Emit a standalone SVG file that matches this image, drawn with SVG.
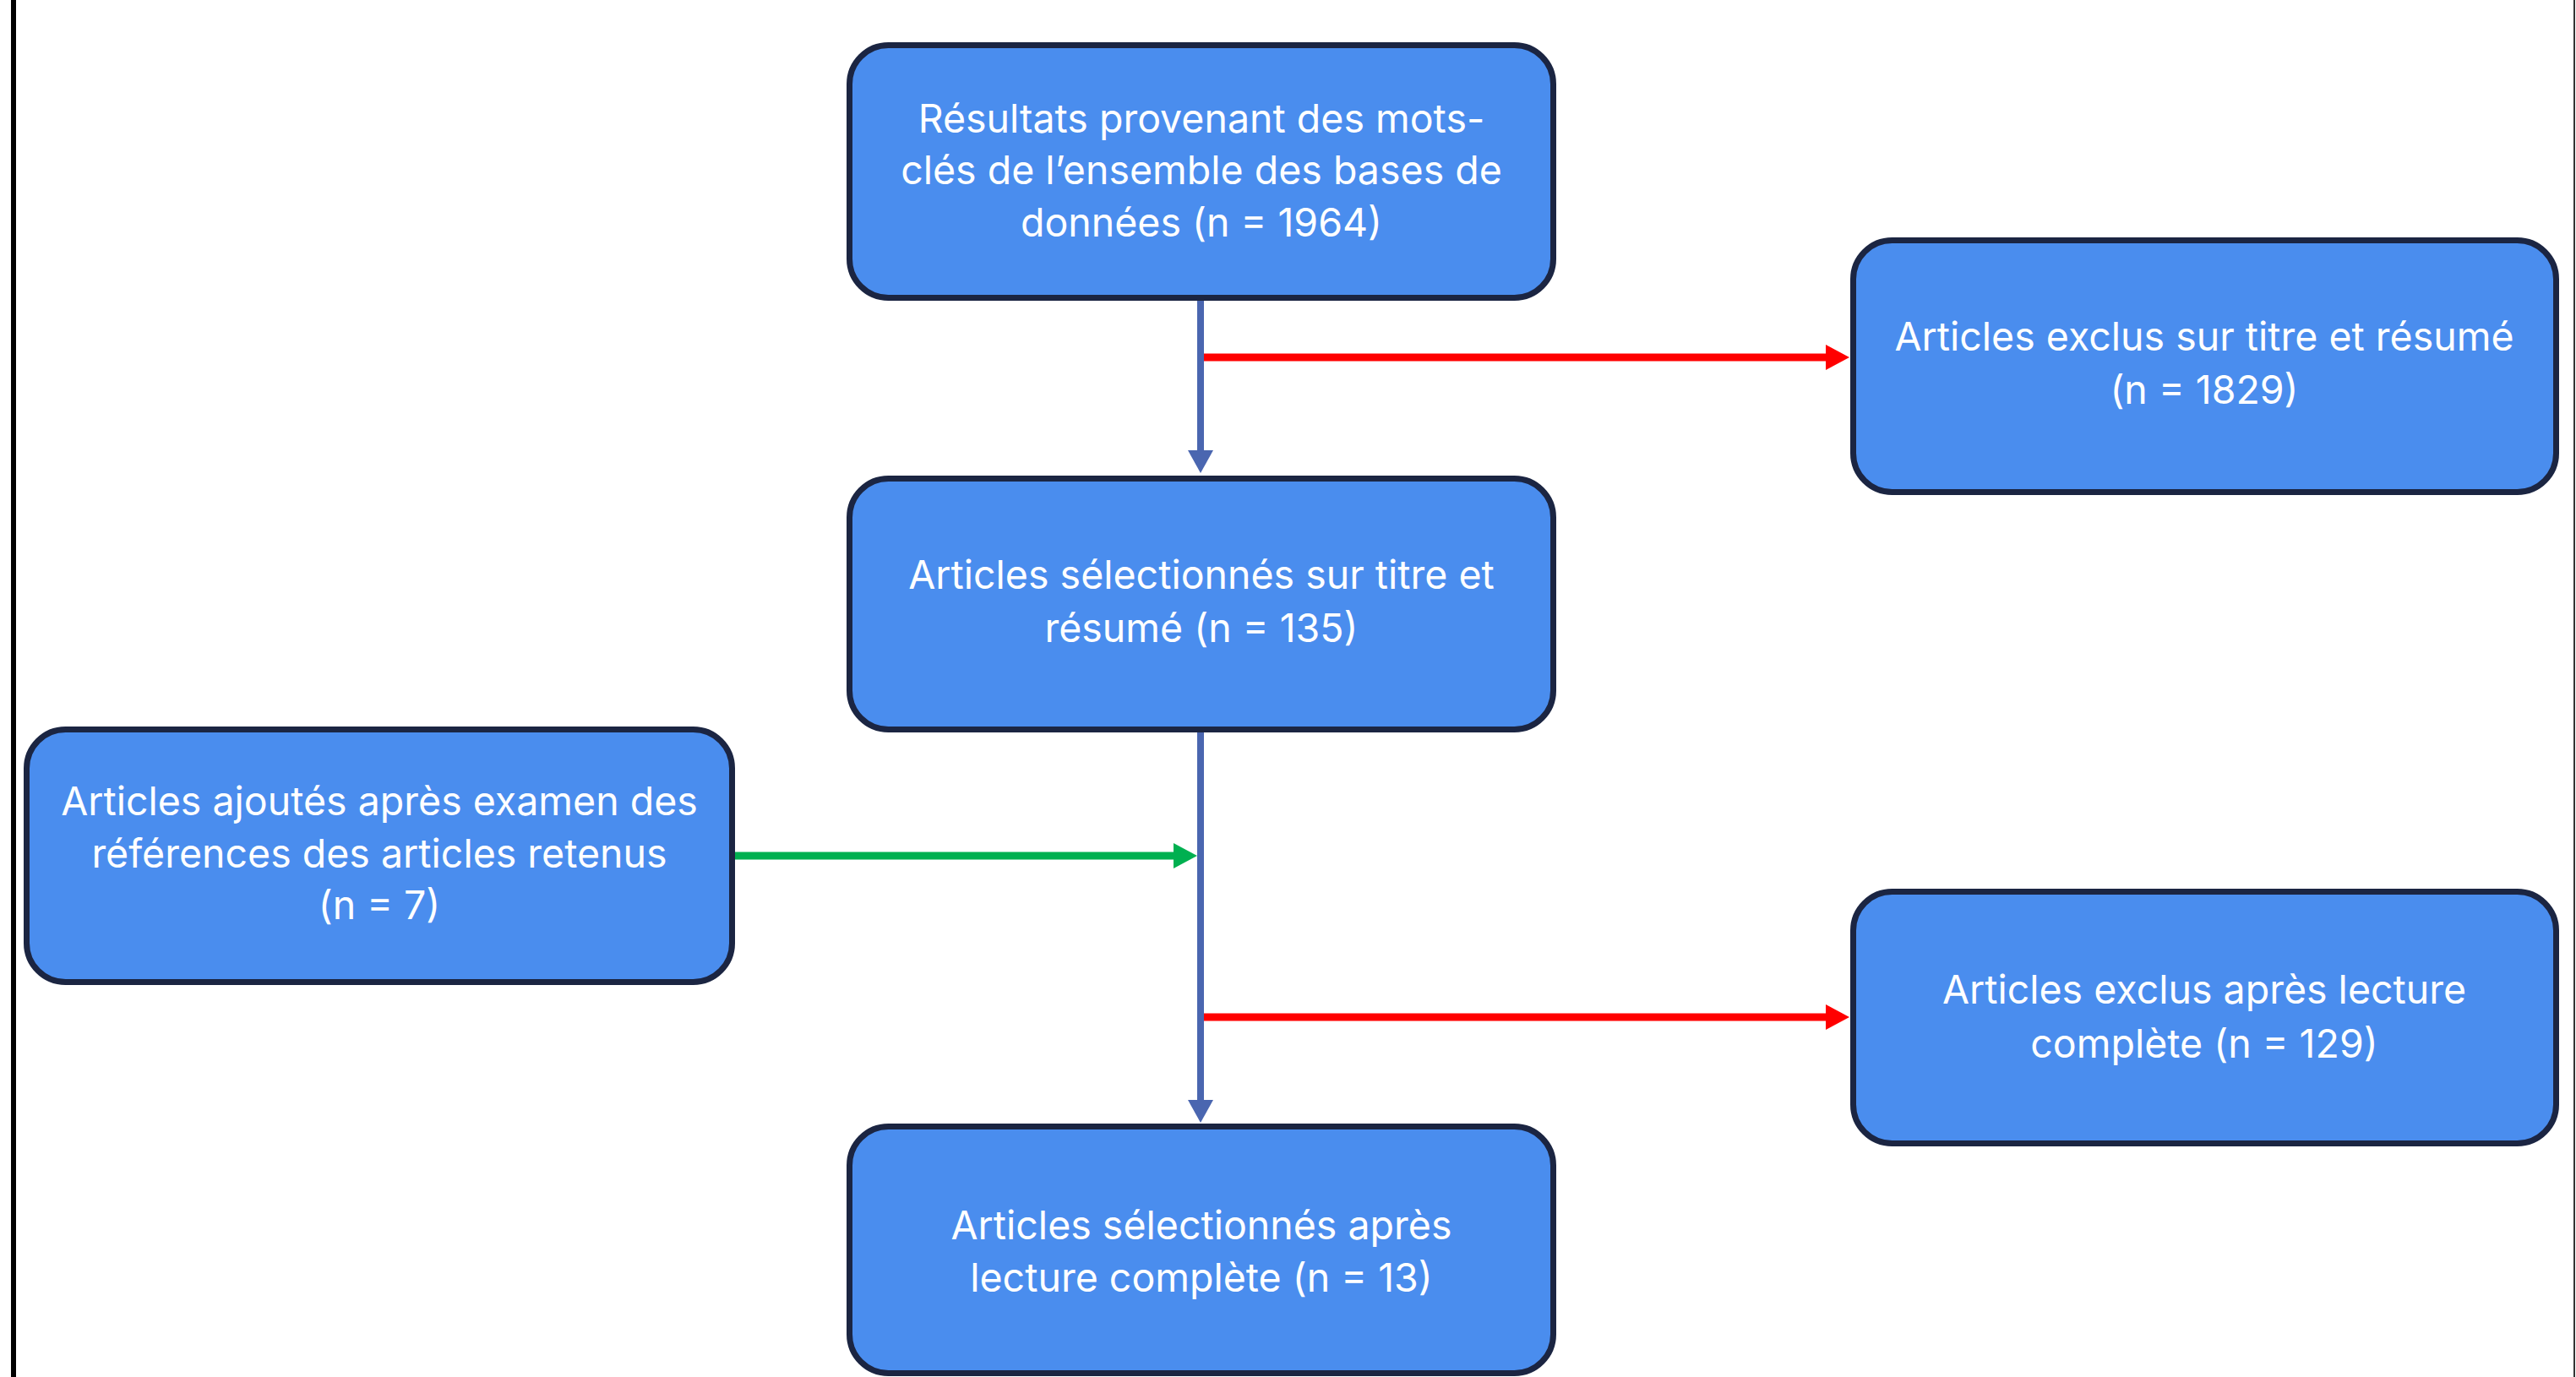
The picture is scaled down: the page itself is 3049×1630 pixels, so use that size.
<svg xmlns="http://www.w3.org/2000/svg" width="3049" height="1630" viewBox="0 0 3049 1630">
<style>
.box{fill:#4A8DEE;stroke:#1B2542;stroke-width:7}
.t{font-family:Inter,"Liberation Sans",Arial,sans-serif;font-size:46.5px;fill:#FFFFFF;text-anchor:middle}
.blue{stroke:#4A66B0;stroke-width:8;fill:none}
.red{stroke:#FF0000;stroke-width:9;fill:none}
.green{stroke:#00B050;stroke-width:9;fill:none}
</style>
<defs>
<marker id="ab" markerUnits="userSpaceOnUse" markerWidth="27" markerHeight="30" refX="0" refY="15" orient="auto"><path d="M0,0 L27,15 L0,30 z" fill="#4A66B0"/></marker>
<marker id="ar" markerUnits="userSpaceOnUse" markerWidth="28" markerHeight="30" refX="0" refY="15" orient="auto"><path d="M0,0 L28,15 L0,30 z" fill="#FF0000"/></marker>
<marker id="ag" markerUnits="userSpaceOnUse" markerWidth="28" markerHeight="30" refX="0" refY="15" orient="auto"><path d="M0,0 L28,15 L0,30 z" fill="#00B050"/></marker>
</defs>
<rect x="0" y="0" width="3049" height="1630" fill="#FFFFFF"/>
<rect x="13" y="0" width="6" height="1630" fill="#000000"/>
<rect x="3046" y="0" width="2" height="1630" fill="#333333"/>
<g id="connectors">
<line class="blue" x1="1421" y1="356" x2="1421" y2="533" marker-end="url(#ab)"/>
<line class="blue" x1="1421" y1="867" x2="1421" y2="1302" marker-end="url(#ab)"/>
<line class="red" x1="1425" y1="423" x2="2161" y2="423" marker-end="url(#ar)"/>
<line class="red" x1="1425" y1="1204" x2="2161" y2="1204" marker-end="url(#ar)"/>
<line class="green" x1="870" y1="1013" x2="1389" y2="1013" marker-end="url(#ag)"/>
</g>
<g id="n1">
<rect class="box" x="1005.5" y="53.5" width="833" height="299" rx="46"/>
<text class="t" x="1422" y="157">Résultats provenant des mots-</text>
<text class="t" x="1422" y="218">clés de l’ensemble des bases de</text>
<text class="t" x="1422" y="280">données (n = 1964)</text>
</g>
<g id="n2">
<rect class="box" x="1005.5" y="566.5" width="833" height="297" rx="46"/>
<text class="t" x="1422" y="697">Articles sélectionnés sur titre et</text>
<text class="t" x="1422" y="760">résumé (n = 135)</text>
</g>
<g id="n3">
<rect class="box" x="31.5" y="863.5" width="835" height="299" rx="46"/>
<text class="t" x="449" y="965">Articles ajoutés après examen des</text>
<text class="t" x="449" y="1027">références des articles retenus</text>
<text class="t" x="449" y="1088">(n = 7)</text>
</g>
<g id="n4">
<rect class="box" x="1005.5" y="1333.5" width="833" height="292" rx="46"/>
<text class="t" x="1422" y="1467">Articles sélectionnés après</text>
<text class="t" x="1422" y="1529">lecture complète (n = 13)</text>
</g>
<g id="n5">
<rect class="box" x="2193.5" y="284.5" width="832" height="298" rx="46"/>
<text class="t" x="2609" y="415">Articles exclus sur titre et résumé</text>
<text class="t" x="2609" y="478">(n = 1829)</text>
</g>
<g id="n6">
<rect class="box" x="2193.5" y="1055.5" width="832" height="298" rx="46"/>
<text class="t" x="2609" y="1188">Articles exclus après lecture</text>
<text class="t" x="2609" y="1252">complète (n = 129)</text>
</g>
</svg>
